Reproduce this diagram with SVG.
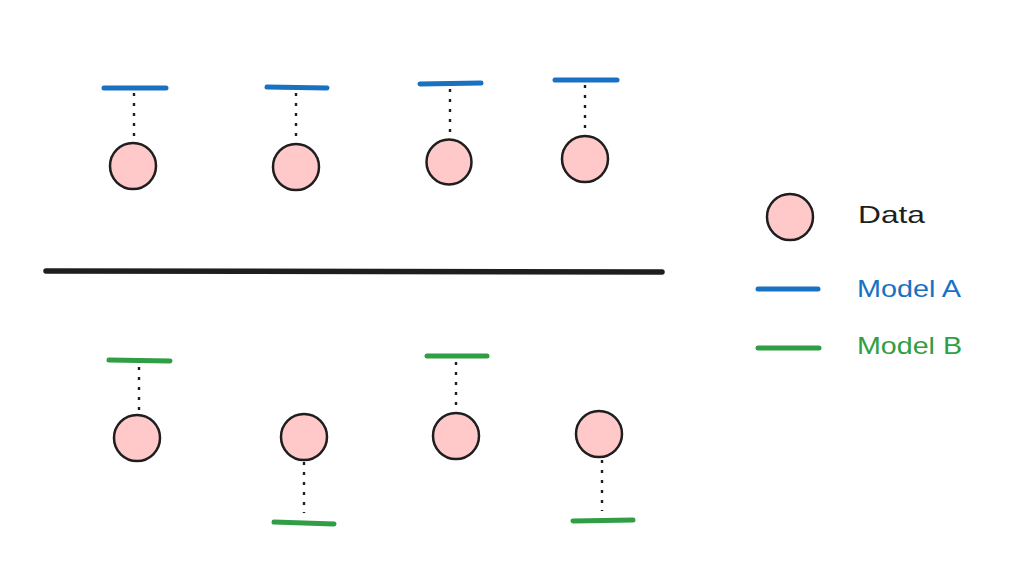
<svg xmlns="http://www.w3.org/2000/svg" width="1024" height="582" viewBox="0 0 1024 582">
<style>
.data{fill:#ffc9c9;stroke:#1e1e1e;stroke-width:2.5}
.ma{stroke:#1971c2;stroke-width:5;stroke-linecap:round;fill:none}
.mb{stroke:#2f9e44;stroke-width:5;stroke-linecap:round;fill:none}
.dot{stroke:#1e1e1e;stroke-width:2.4;stroke-dasharray:3 7;fill:none}
.lbl{font-family:"Liberation Sans","DejaVu Sans",sans-serif;font-size:24px}
</style>
<rect width="1024" height="582" fill="#ffffff"/>
<g id="connectors">
<line class="dot" x1="134" y1="93" x2="134" y2="142"/>
<line class="dot" x1="296" y1="93" x2="296" y2="143"/>
<line class="dot" x1="450" y1="89" x2="450" y2="139"/>
<line class="dot" x1="585" y1="85" x2="585" y2="135"/>
<line class="dot" x1="139" y1="367" x2="139" y2="414"/>
<line class="dot" x1="304" y1="462" x2="304" y2="513"/>
<line class="dot" x1="456" y1="362" x2="456" y2="412"/>
<line class="dot" x1="602" y1="460" x2="602" y2="511"/>
</g>
<g id="divider"><line x1="46" y1="271" x2="662" y2="272" stroke="#1e1e1e" stroke-width="5.5" stroke-linecap="round"/></g>
<g id="top-1"><line class="ma" x1="104" y1="88" x2="166" y2="88"/><circle class="data" cx="133" cy="166" r="23"/></g>
<g id="top-2"><line class="ma" x1="267" y1="87" x2="327" y2="88"/><circle class="data" cx="296" cy="167" r="23"/></g>
<g id="top-3"><line class="ma" x1="420" y1="84" x2="481" y2="83"/><circle class="data" cx="449" cy="162" r="22.5"/></g>
<g id="top-4"><line class="ma" x1="555" y1="80" x2="617" y2="80"/><circle class="data" cx="585" cy="159" r="23"/></g>
<g id="bot-1"><line class="mb" x1="109" y1="360" x2="170" y2="361"/><circle class="data" cx="137" cy="438" r="23"/></g>
<g id="bot-2"><line class="mb" x1="274" y1="522" x2="334" y2="524"/><circle class="data" cx="304" cy="437" r="23"/></g>
<g id="bot-3"><line class="mb" x1="427" y1="356" x2="487" y2="356"/><circle class="data" cx="456" cy="436" r="23"/></g>
<g id="bot-4"><line class="mb" x1="573" y1="521" x2="633" y2="520"/><circle class="data" cx="599" cy="434" r="23"/></g>
<g id="legend-data"><circle class="data" cx="790" cy="217" r="23"/><text class="lbl" x="858" y="223" fill="#1e1e1e" textLength="67" lengthAdjust="spacingAndGlyphs">Data</text></g>
<g id="legend-a"><line class="ma" x1="758" y1="289" x2="818" y2="289"/><text class="lbl" x="857" y="297" fill="#1971c2" textLength="104" lengthAdjust="spacingAndGlyphs">Model A</text></g>
<g id="legend-b"><line class="mb" x1="758" y1="348" x2="819" y2="348"/><text class="lbl" x="857" y="354" fill="#2f9e44" textLength="105" lengthAdjust="spacingAndGlyphs">Model B</text></g>
</svg>
